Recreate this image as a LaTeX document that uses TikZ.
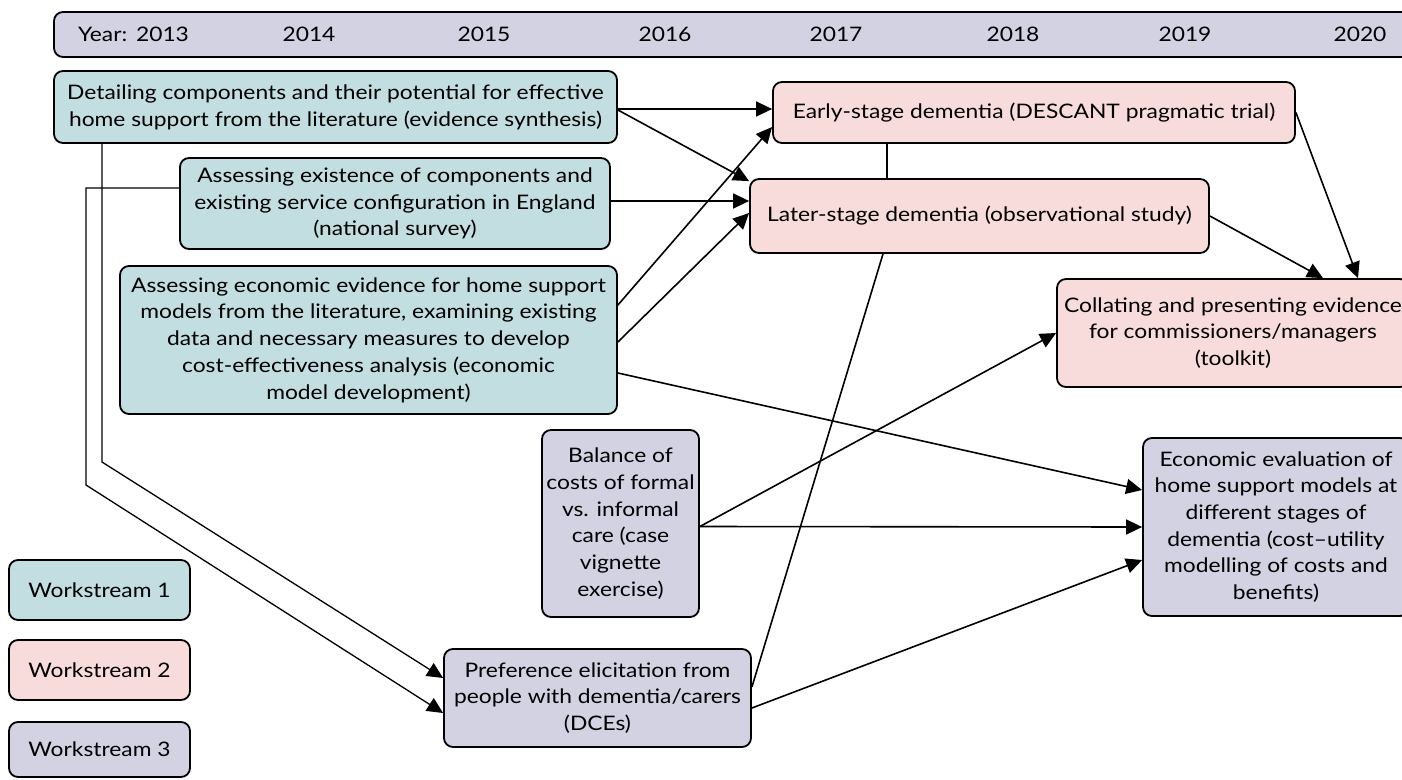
\documentclass[tikz,border=0pt]{standalone}
\usepackage{fontspec}
\setmainfont{Lato}[FakeStretch=1.14]
\usetikzlibrary{arrows.meta}
\definecolor{wsone}{HTML}{C3DEE0}
\definecolor{wstwo}{HTML}{F8DCDB}
\definecolor{wsthree}{HTML}{D2D2E3}
\begin{document}
\begin{tikzpicture}[x=1pt,y=-1pt,
  box/.style={draw=black, line width=1.8pt, rounded corners=9pt, align=center, inner sep=0pt, font=\fontsize{20}{26.7}\selectfont},
  yr/.style={inner sep=0pt, font=\fontsize{20}{22}\selectfont},
  arr/.style={line width=1.6pt, -{Triangle[length=16pt,width=15pt]}},
  ln/.style={line width=1.6pt},
  thin arr/.style={line width=1.3pt, -{Triangle[length=16pt,width=15pt]}}]
\useasboundingbox (0,0) rectangle (1402,779);
\clip (0,0) rectangle (1402,779);
% timeline bar
\node[box, fill=wsthree, minimum width=1376pt, minimum height=45pt] (bar) at (742,34.5) {};
\node[yr, anchor=west] (yl) at (78,34.5) {Year:};
\node[yr] (y13) at (162.5,34.5) {2013};
\node[yr] (y14) at (309,34.5) {2014};
\node[yr] (y15) at (484,34.5) {2015};
\node[yr] (y16) at (665,34.5) {2016};
\node[yr] (y17) at (836,34.5) {2017};
\node[yr] (y18) at (1013,34.5) {2018};
\node[yr] (y19) at (1185,34.5) {2019};
\node[yr] (y20) at (1360,34.5) {2020};
% workstream 1
\node[box, fill=wsone, minimum width=563pt, minimum height=72pt] (detail) at (335.5,107)
  {Detailing components and their potential for effective\\home support from the literature (evidence synthesis)};
\node[box, fill=wsone, minimum width=430pt, minimum height=91pt] (exist) at (395,203.5)
  {Assessing existence of components and\\existing service configuration in England\\(national survey)};
\node[box, fill=wsone, minimum width=497pt, minimum height=148pt] (econ) at (368.5,340)
  {Assessing economic evidence for home support\\models from the literature, examining existing\\data and necessary measures to develop\\cost-effectiveness analysis (economic\\model development)};
% workstream 2
\node[box, fill=wstwo, minimum width=522pt, minimum height=61pt] (early) at (1034,112.5)
  {Early-stage dementia (DESCANT pragmatic trial)};
\node[box, fill=wstwo, minimum width=459pt, minimum height=74pt] (later) at (979.5,216)
  {Later-stage dementia (observational study)};
\node[box, fill=wstwo, minimum width=352pt, minimum height=108pt] (collate) at (1233,333)
  {Collating and presenting evidence\\for commissioners/managers\\(toolkit)};
% workstream 3
\node[box, fill=wsthree, minimum width=266pt, minimum height=178pt] (eval) at (1276,527)
  {Economic evaluation of\\home support models at\\different stages of\\dementia (cost–utility\\modelling of costs and\\benefits)};
\node[box, fill=wsthree, minimum width=157pt, minimum height=187pt] (balance) at (620.5,523.5)
  {Balance of\\costs of formal\\vs. informal\\care (case\\vignette\\exercise)};
\node[box, fill=wsthree, minimum width=307pt, minimum height=98pt] (pref) at (597.5,698)
  {Preference elicitation from\\people with dementia/carers\\(DCEs)};
% legend
\node[box, fill=wsone, minimum width=181pt, minimum height=60pt] (ws1) at (99.5,590) {Workstream 1};
\node[box, fill=wstwo, minimum width=181pt, minimum height=60pt] (ws2) at (99.5,670) {Workstream 2};
\node[box, fill=wsthree, minimum width=181pt, minimum height=55pt] (ws3) at (99.5,749.5) {Workstream 3};
% connectors
\draw[arr] ([yshift=-2pt]detail.east) -- ([yshift=3.5pt]early.west);
\draw[arr] ([yshift=-3pt]detail.east) -- ([yshift=-3pt]later.north west);
\draw[arr] ([yshift=2.5pt]exist.east) -- ([yshift=15pt]later.west);
\draw[arr] ([yshift=35pt]econ.east) -- ([yshift=-14.5pt]early.west);
\draw[arr] ([yshift=-2pt]econ.east) -- ([yshift=3pt]later.west);
\draw[arr] ([yshift=-33pt]econ.east) -- ([yshift=37pt]eval.west);
\draw[ln] ([xshift=-147pt]early.south) -- ([xshift=-92.5pt]later.north);
\draw[arr] (early.east) -- ([xshift=125pt]collate.north);
\draw[arr] (later.east) -- ([xshift=90pt]collate.north);
\draw[ln] ([xshift=-96.5pt]later.south) -- ([yshift=11pt]pref.east);
\draw[arr] ([yshift=-3pt]balance.east) -- (collate.west);
\draw[arr] ([yshift=-3pt]balance.east) -- (eval.west);
\draw[arr] ([yshift=-10pt]pref.east) -- ([yshift=-33pt]eval.west);
\coordinate (b1) at (102,462);
\coordinate (b2) at (86,485);
\draw[thin arr] ([xshift=-233.5pt]detail.south) -- (b1) -- ([yshift=20pt]pref.west);
\draw[thin arr] ([yshift=15.5pt]exist.west) -| (b2) -- ([yshift=-15pt]pref.west);
\end{tikzpicture}
\end{document}
